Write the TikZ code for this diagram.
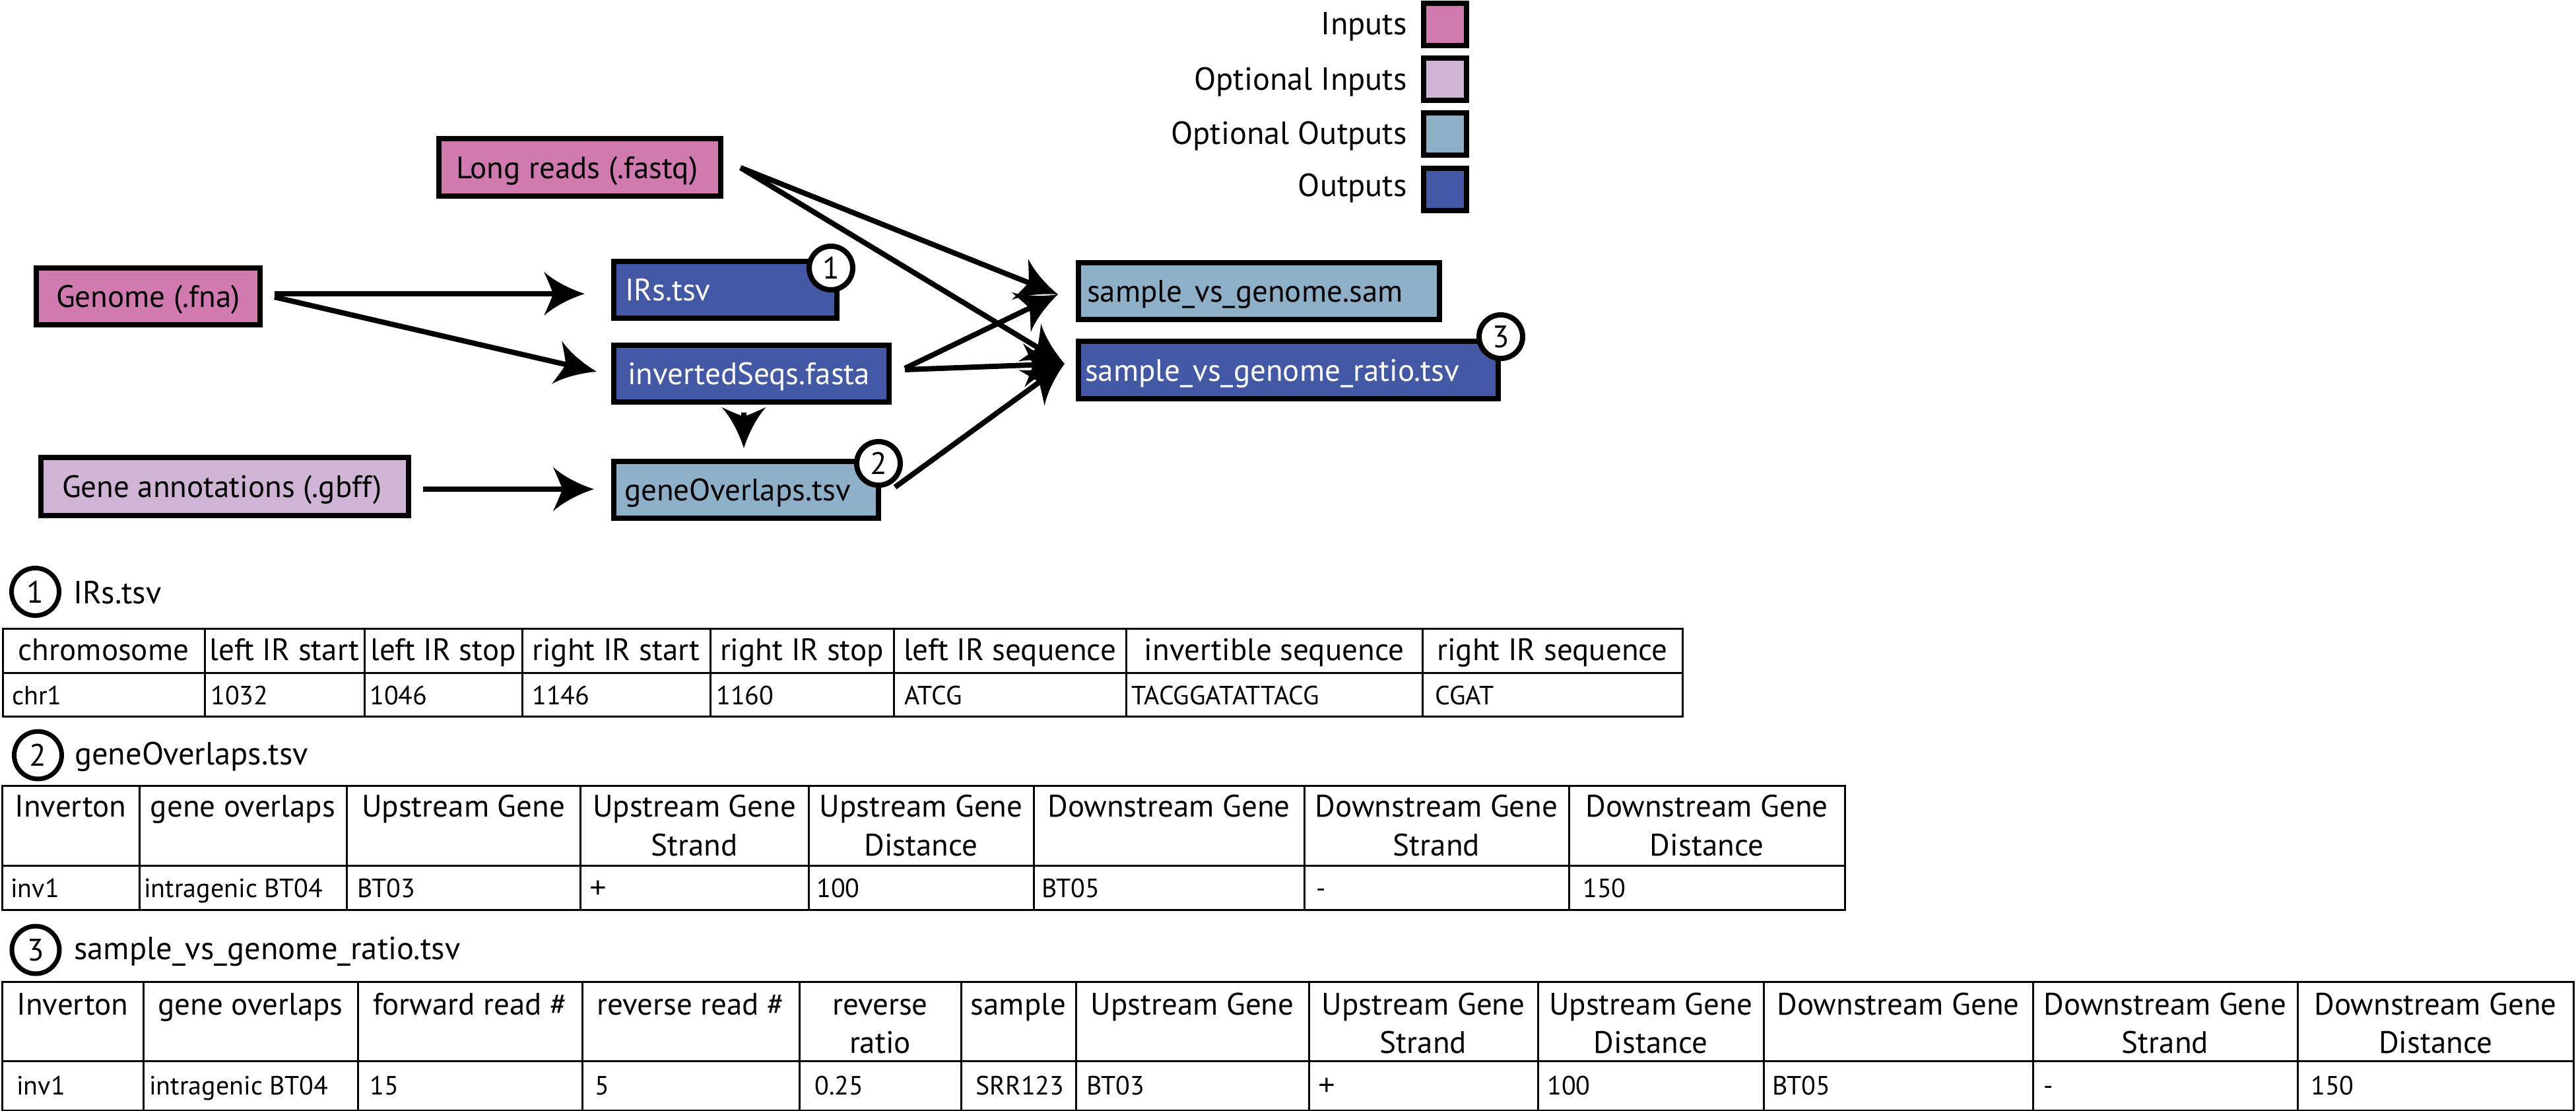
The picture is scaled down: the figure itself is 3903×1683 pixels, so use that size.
\documentclass[tikz,border=0pt]{standalone}
\usepackage{fontspec}
\setmainfont{PT Sans}
\newfontfamily\plusfont{Liberation Sans}
\usetikzlibrary{arrows.meta,calc}
\definecolor{inpink}{RGB}{208,122,176}
\definecolor{optpurple}{RGB}{208,180,213}
\definecolor{optblue}{RGB}{141,175,200}
\definecolor{outblue}{RGB}{68,89,166}
\newcommand\fmain{\fontsize{47}{59}\selectfont}
\newcommand\fdata{\fontsize{40}{48}\selectfont}
\newcommand\flegend{\fontsize{48.5}{59}\selectfont}
\newcommand\lb[2]{\makebox[#1pt][l]{#2}}
\newcommand\bigplus{{\plusfont\fontsize{44}{44}\selectfont +}}
\pgfdeclarearrow{
  name = SweptHead,
  setup code = {
    \pgfarrowssettipend{0pt}
    \pgfarrowssetlineend{-40pt}
    \pgfarrowssetbackend{-62pt}
    \pgfarrowshullpoint{0pt}{0pt}
    \pgfarrowsupperhullpoint{-62pt}{33.5pt}
  },
  drawing code = {
    \pgfpathmoveto{\pgfqpoint{0pt}{0pt}}
    \pgfpathcurveto{\pgfqpoint{-22pt}{7pt}}{\pgfqpoint{-46pt}{19pt}}{\pgfqpoint{-62pt}{33.5pt}}
    \pgfpathcurveto{\pgfqpoint{-56pt}{20pt}}{\pgfqpoint{-51pt}{9pt}}{\pgfqpoint{-48pt}{0pt}}
    \pgfpathcurveto{\pgfqpoint{-51pt}{-9pt}}{\pgfqpoint{-56pt}{-20pt}}{\pgfqpoint{-62pt}{-33.5pt}}
    \pgfpathcurveto{\pgfqpoint{-46pt}{-19pt}}{\pgfqpoint{-22pt}{-7pt}}{\pgfqpoint{0pt}{0pt}}
    \pgfpathclose
    \pgfusepathqfill
  }
}
\begin{document}
\begin{tikzpicture}[x=1pt,y=-1pt,
  fbox/.style={draw, line width=8pt, rectangle, inner ysep=0pt, text height=33pt, text depth=0pt, font=\fmain},
  lbox/.style={draw, line width=8pt, rectangle, minimum width=65pt, minimum height=64pt, inner sep=0pt},
  ltext/.style={anchor=base east, inner sep=0pt, font=\flegend},
  fcirc/.style={draw, circle, line width=8pt, fill=white, minimum size=66pt, inner sep=0pt, text height=33pt, text depth=0pt, font=\fmain},
  tcirc/.style={draw, circle, line width=7pt, fill=white, minimum size=72pt, inner sep=0pt, text height=33pt, text depth=0pt, font=\fmain},
  ttl/.style={anchor=base west, inner sep=0pt, font=\flegend},
  arr/.style={line width=8pt, -{SweptHead}},
  tline/.style={line width=3pt, line cap=rect},
  hd/.style={anchor=base, inner sep=0pt, font=\fmain},
  dt/.style={anchor=base west, inner sep=0pt, font=\fdata}]
\useasboundingbox (0,0) rectangle (3903,1683);

% ---------- legend ----------
\node[lbox, fill=inpink]    (lg1) at (2189.5,37) {};
\node[lbox, fill=optpurple] (lg2) at (2189.5,120) {};
\node[lbox, fill=optblue]   (lg3) at (2189.5,203) {};
\node[lbox, fill=outblue]   (lg4) at (2189.5,286.5) {};
\node[ltext] (lt1) at (2132,53) {Inputs};
\node[ltext] (lt2) at (2132,137) {Optional Inputs};
\node[ltext] (lt3) at (2132,218) {Optional Outputs};
\node[ltext] (lt4) at (2132,297) {Outputs};

% ---------- flow boxes ----------
\node[fbox, fill=inpink, minimum width=427pt, minimum height=87pt, inner xsep=26pt] (longreads) at (878.5,253.5) {\lb{375}{Long reads (.fastq)}};
\node[fbox, fill=inpink, minimum width=339pt, minimum height=86pt, inner xsep=30pt] (genome) at (224.5,449) {\lb{279}{Genome (.fna)}};
\node[fbox, fill=optpurple, minimum width=557pt, minimum height=88pt, inner xsep=32pt] (geneann) at (340.5,737) {\lb{493}{Gene annotations (.gbff)}};
\node[fbox, fill=outblue, text=white, minimum width=338pt, minimum height=86pt, inner xsep=17pt] (irs) at (1099,439) {\lb{304}{IRs.tsv}};
\node[fbox, fill=outblue, text=white, minimum width=417pt, minimum height=86pt, inner xsep=21pt] (invseq) at (1138.5,566) {\lb{375}{invertedSeqs.fasta}};
\node[fbox, fill=optblue, minimum width=401pt, minimum height=86pt, inner xsep=16pt] (geneov) at (1130.5,742) {\lb{369}{geneOverlaps.tsv}};
\node[fbox, fill=optblue, minimum width=547pt, minimum height=86pt, inner xsep=13pt] (sam) at (1907.5,441) {\lb{521}{sample\_vs\_genome.sam}};
\node[fbox, fill=outblue, text=white, minimum width=636pt, minimum height=87pt, inner xsep=10pt] (ratio) at (1952,560.5) {\lb{616}{sample\_vs\_genome\_ratio.tsv}};

\node[fcirc] (c1) at (1259,406) {1};
\node[fcirc] (c2) at (1331,702) {2};
\node[fcirc] (c3) at (2274,510) {3};

% ---------- connectors ----------
\coordinate (irstip) at ($(irs.west)+(-40,6)$);
\coordinate (invtip) at ($(invseq.west)+(-22,-3)$);
\coordinate (govtip) at ($(geneov.north)+(-3.5,-16)$);
\coordinate (govwtip) at ($(geneov.west)+(-26,-1)$);
\coordinate (samtip) at ($(sam.west)+(-27,5)$);
\coordinate (ratiotip) at ($(ratio.west)+(-17,-9.5)$);
\draw[arr] ($(genome.east)+(18,-4)$) -- (irstip);
\draw[arr] ($(genome.east)+(18,1)$) -- (invtip);
\draw[arr] ($(invseq.south)+(-11.5,12)$) -- (govtip);
\draw[arr] ($(geneann.east)+(18,4)$) -- (govwtip);
\draw[arr] ($(longreads.east)+(26,0.5)$) -- (samtip);
\draw[arr] ($(longreads.east)+(26,0.5)$) -- (ratiotip);
\draw[arr] ($(invseq.east)+(20,-8)$) -- (samtip);
\draw[arr] ($(invseq.east)+(20,-6)$) -- (ratiotip);
\draw[arr] ($(geneov.east)+(21,-4)$) -- (ratiotip);

% ---------- table titles ----------
\node[tcirc] (n1) at (53.5,896.5) {1};
\node[ttl] (ti1) at (111,914) {IRs.tsv};
\node[tcirc] (n2) at (57.5,1144) {2};
\node[ttl] (ti2) at (113,1158) {geneOverlaps.tsv};
\node[tcirc] (n3) at (54,1439) {3};
\node[ttl] (ti3) at (112,1453) {sample\_vs\_genome\_ratio.tsv};

% ---------- table 1 ----------
\foreach \x in {4,310,552,791,1076,1354,1706,2155,2549} \draw[tline] (\x,952) -- (\x,1085);
\foreach \y in {952,1019,1085} \draw[tline] (4,\y) -- (2549,\y);
\foreach \x/\t [count=\i] in {157/chromosome,431/left IR start,671.5/left IR stop,933.5/right IR start,1215/right IR stop,1530/left IR sequence,1930.5/invertible sequence,2352/right IR sequence}
  \node[hd] (t1h\i) at (\x,1000) {\t};
\foreach \x/\t [count=\i] in {20/chr1,321/1032,562/1046,808/1146,1087/1160,1372/ATCG,1716/TACGGATATTACG,2176/CGAT}
  \node[dt] (t1d\i) at (\x-2,1067) {\t};

% ---------- table 2 ----------
\foreach \x in {3,211,525,879,1225,1566,1976,2377,2795} \draw[tline] (\x,1190) -- (\x,1378);
\foreach \y in {1190,1311,1378} \draw[tline] (3,\y) -- (2795,\y);
\foreach \x/\t [count=\i] in {107/Inverton,368/gene overlaps,702/Upstream Gene,1052/Upstream Gene,1395.5/Upstream Gene,1771/Downstream Gene,2176.5/Downstream Gene,2586/Downstream Gene}
  \node[hd] (t2h\i) at (\x,1237) {\t};
\foreach \x/\t [count=\i] in {1052/Strand,1395.5/Distance,2176.5/Strand,2586/Distance}
  \node[hd] (t2s\i) at (\x,1296) {\t};
\foreach \x/\t [count=\i] in {18/inv1,220/intragenic BT04,543/BT03,895/\bigplus,1239/100,1580/BT05,1996/-,2400/150}
  \node[dt] (t2d\i) at (\x-2,1359) {\t};

% ---------- table 3 ----------
\foreach \x in {3,217,542,882,1211,1456,1630,1983,2330,2672,3080,3481,3899} \draw[tline] (\x,1487) -- (\x,1682);
\foreach \y in {1487,1607,1682} \draw[tline] (3,\y) -- (3899,\y);
\foreach \x/\t [count=\i] in {110/Inverton,379.5/gene overlaps,712/forward read \#,1046.5/reverse read \#,1333.5/reverse,1543/sample,1806.5/Upstream Gene,2156.5/Upstream Gene,2501/Upstream Gene,2876/Downstream Gene,3280.5/Downstream Gene,3690/Downstream Gene}
  \node[hd] (t3h\i) at (\x,1537) {\t};
\foreach \x/\t [count=\i] in {1333.5/ratio,2156.5/Strand,2501/Distance,3280.5/Strand,3690/Distance}
  \node[hd] (t3s\i) at (\x,1595) {\t};
\foreach \x/\t [count=\i] in {27/inv1,228/intragenic BT04,562/15,903/5,1236/0.25,1480/SRR123,1648/BT03,1999/\bigplus,2346/100,2687/BT05,3098/-,3503/150}
  \node[dt] (t3d\i) at (\x-2,1658) {\t};
\end{tikzpicture}
\end{document}
